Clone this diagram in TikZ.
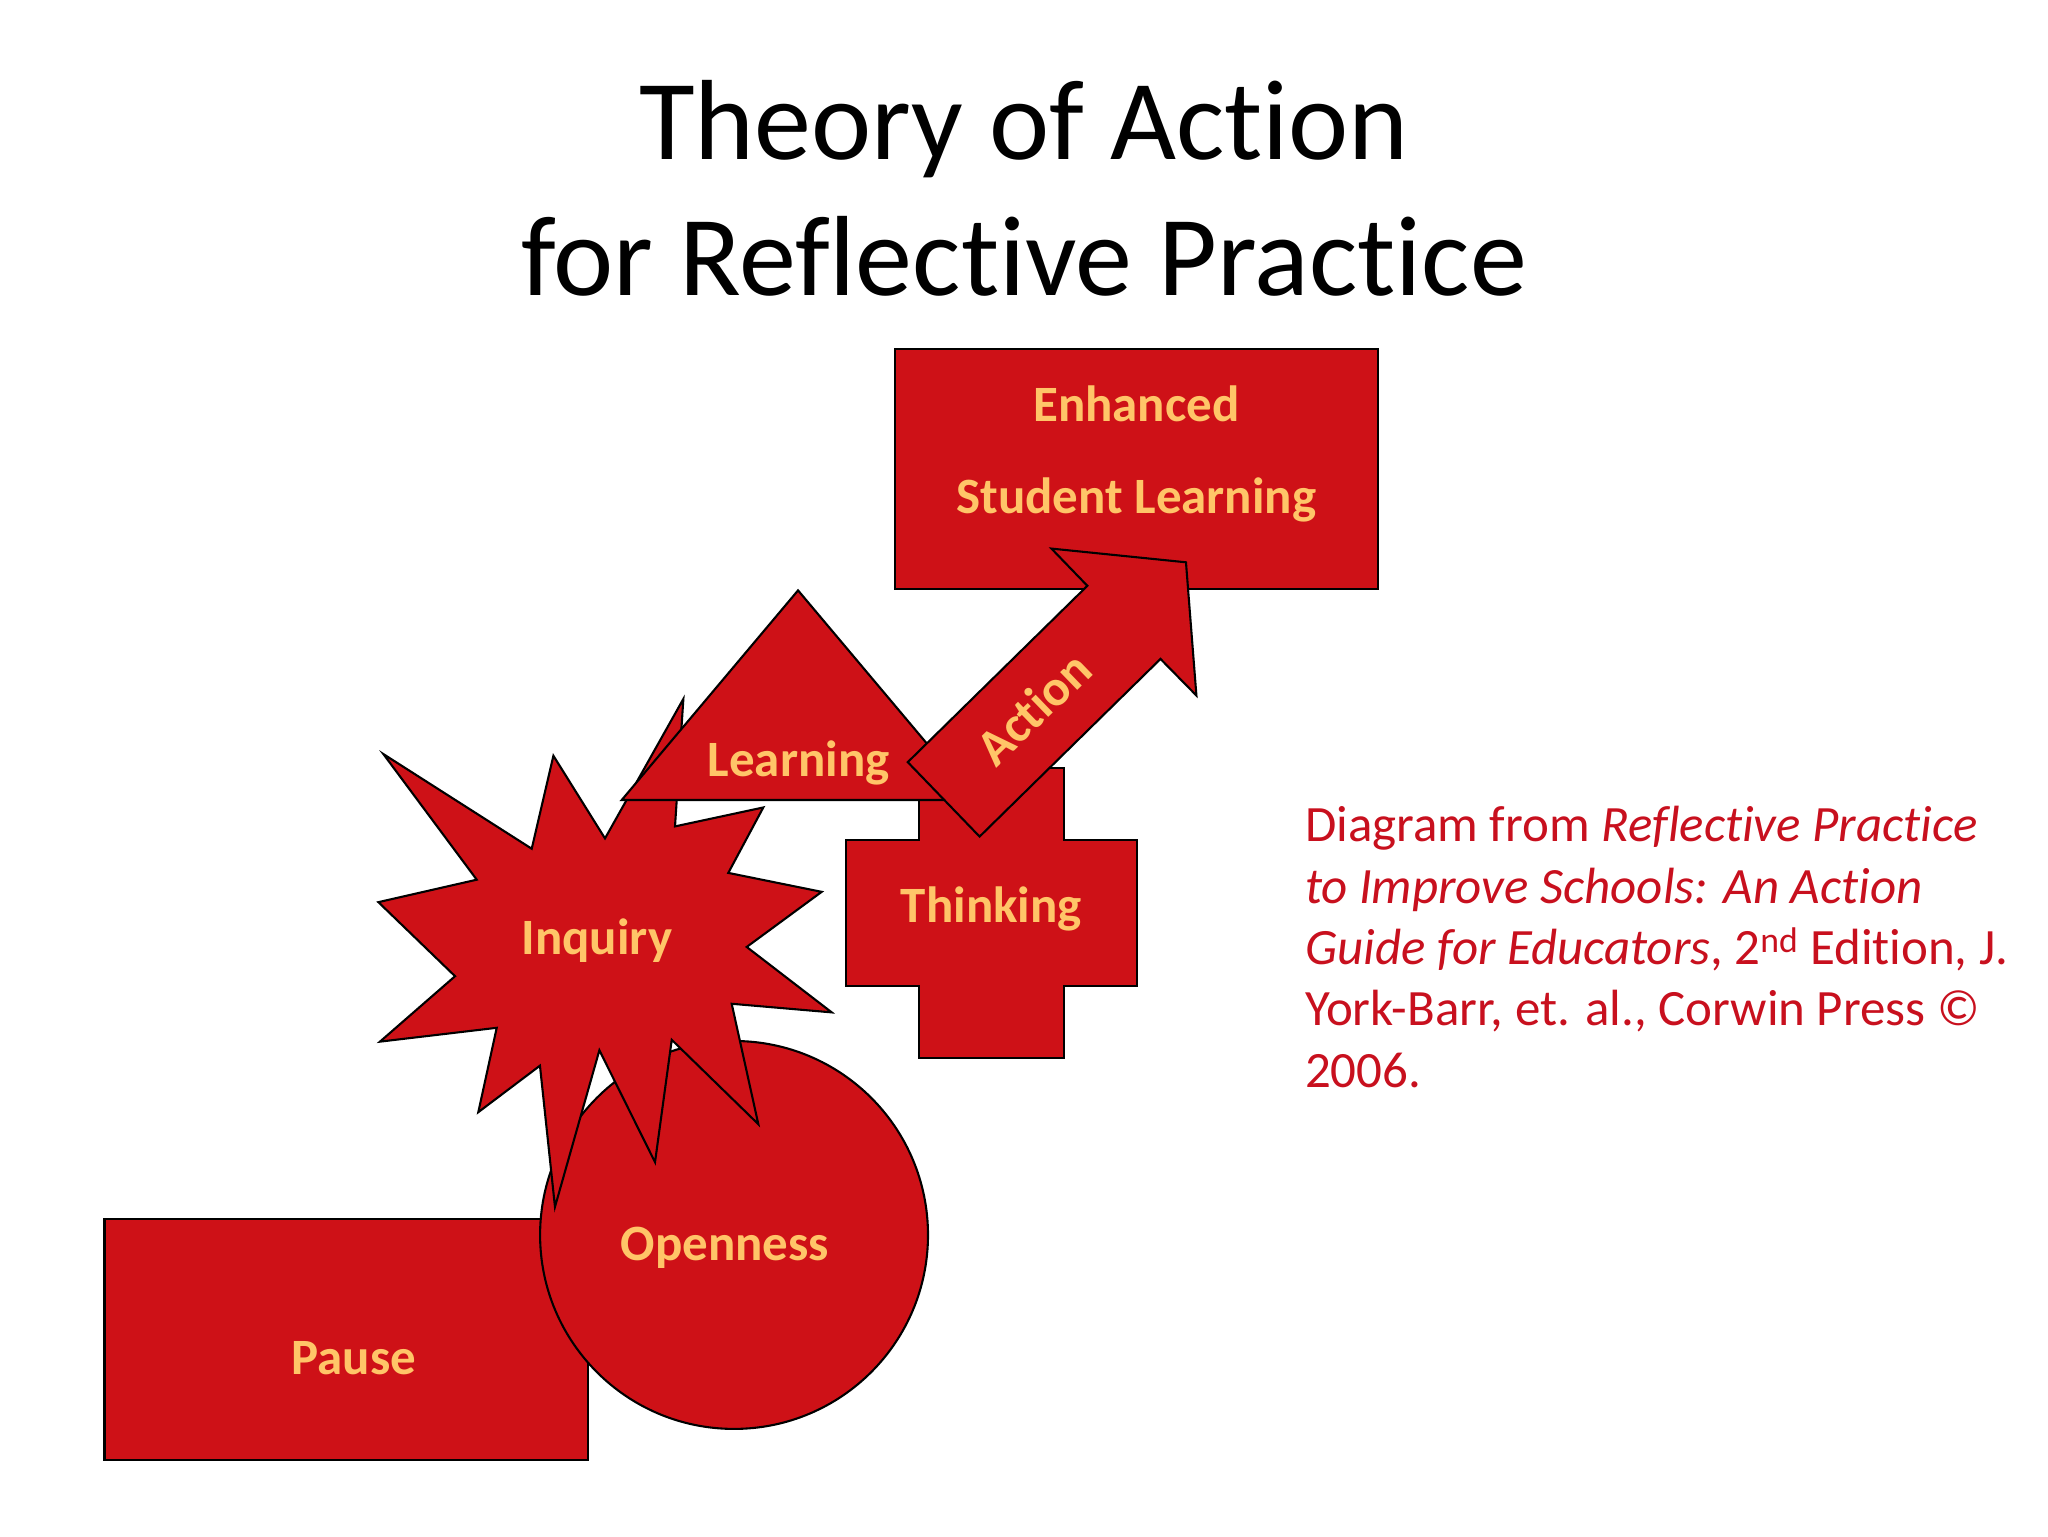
\documentclass[tikz,border=0pt]{standalone}
\usepackage{fontspec}
\setmainfont{Carlito}[RawFeature={-liga;-clig;-dlig}]
\usetikzlibrary{shapes.geometric, positioning, calc}
\definecolor{slidered}{RGB}{206,17,23}
\definecolor{labelgold}{RGB}{255,197,104}
\definecolor{citered}{RGB}{200,16,30}

\begin{document}
\begin{tikzpicture}[
        x=1pt, y=-1pt,
        piece/.style={draw=black, fill=slidered, line width=1.6pt, line join=miter},
        box/.style={piece, rectangle, inner sep=0pt},
        lbl/.style={anchor=base, text=labelgold, inner sep=0pt, font=\fontsize{39}{47}\selectfont\bfseries},
        heading/.style={anchor=base, inner sep=0pt, font=\fontsize{87.3}{104}\selectfont}
    ]
        \useasboundingbox (0,0) rectangle (1568,1176);

        % Title
        \node[heading] (title1) at (784, 122) {Theory of Action};
        \node[heading] (title2) at (784, 226) {for Reflective Practice};

        % Pause
        \node[box, minimum width=370pt, minimum height=185pt] (pause) at (265, 1025.5) {};
        \node[lbl] (pauseText) at (271, 1052) {Pause};

        % Openness
        \node[piece, circle, minimum size=297pt, inner sep=0pt] (open) at (562, 945.5) {};
        \node[lbl] (openText) at (555, 965) {Openness};

        % Inquiry
        \draw[piece] (293.5,577.3) -- (407.1,649.8) -- (423.7,578.6) -- (463.2,641.9)
            -- (523.2,535.1) -- (516.8,632.7) -- (584.4,618.2) -- (557.6,668.3)
            -- (629.1,682.8) -- (571.7,725.0) -- (636.8,775.1) -- (560.2,768.5)
            -- (580.6,860.7) -- (514.3,796.1) -- (501.5,889.8) -- (458.9,804.1)
            -- (424.9,924.0) -- (413.4,815.9) -- (366.2,851.5) -- (380.3,786.9)
            -- (290.9,797.5) -- (348.4,747.4) -- (289.7,690.7) -- (365,673.5) -- cycle;
        \node[lbl] (inquiryText) at (457, 730.5) {Inquiry};

        % Thinking
        \draw[piece] (703.6,588.3) -- (814.6,588.3) -- (814.6,643.1) -- (870.8,643.1)
            -- (870.8,754.9) -- (814.6,754.9) -- (814.6,810.3) -- (703.6,810.3)
            -- (703.6,754.9) -- (647.7,754.9) -- (647.7,643.1) -- (703.6,643.1) -- cycle;
        \node[lbl] (thinkText) at (759, 706) {Thinking};

        % Learning
        \draw[piece] (611,452) -- (746,612.5) -- (476,612.5) -- cycle;
        \node[lbl] (learnText) at (611.5, 594.5) {Learning};

        % Enhanced Student Learning
        \node[box, minimum width=370pt, minimum height=184pt] (goal) at (870, 359) {};
        \node[lbl] (goalText1) at (870, 323) {Enhanced};
        \node[lbl] (goalText2) at (870, 393.5) {Student Learning};

        % Action
        \draw[piece] (695,583.5) -- (832.5,448.5) -- (805,420) -- (908,430.5)
            -- (916,532.5) -- (888.5,504.5) -- (750,640.5) -- cycle;
        \node[lbl, anchor=center, rotate=44] (actionText) at (791, 542) {Action};

        % Source note (base = last line)
        \node[anchor=base west, align=left, text=citered, inner sep=0pt,
              font=\fontsize{39}{47}\selectfont] (source) at (999, 832.5) {
            Diagram from \textit{Reflective Practice}\\
            \textit{to Improve Schools: An Action}\\
            \textit{Guide for Educators}, 2\textsuperscript{nd} Edition, J.\\
            York-Barr, et. al., Corwin Press ©\\
            2006.
        };
    \end{tikzpicture}
\end{document}
